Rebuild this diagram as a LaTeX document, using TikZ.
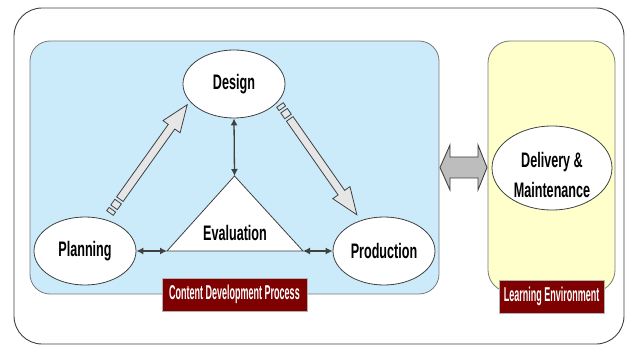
\documentclass[tikz,border=0pt]{standalone}
\usepackage{fontspec}
\usetikzlibrary{shapes.geometric,arrows.meta}
\newfontfamily\nodefont[FakeStretch=0.6]{Liberation Sans}
\newfontfamily\labfont[FakeStretch=0.45]{Liberation Sans}
\definecolor{bluebg}{HTML}{CCEBFA}
\definecolor{yellowbg}{HTML}{FFFFCC}
\definecolor{labred}{HTML}{7F0000}
\definecolor{edge}{HTML}{404040}
\definecolor{arrowfill}{HTML}{E6E6E6}
\definecolor{dblfill}{HTML}{BDBDBD}
\tikzset{
  phase/.style={ellipse, draw=edge, line width=0.8pt, fill=white, inner sep=0pt,
    minimum width=102pt, minimum height=68pt,
    font=\nodefont\bfseries\fontsize{21}{30}\selectfont, text=black},
  phasetext/.style={font=\nodefont\bfseries\fontsize{21}{30}\selectfont, text=black, align=center, inner sep=0pt},
  tag/.style={rectangle, fill=labred, draw=gray!60, line width=0.5pt, text=white,
    font=\labfont\bfseries\fontsize{20}{22}\selectfont, minimum height=33pt, inner sep=0pt},
  link/.style={draw=edge, line width=1.3pt, {Latex[length=7pt,width=7pt]}-{Latex[length=7pt,width=7pt]}},
  blockarrow/.style={draw=edge, line width=0.8pt, fill=arrowfill, line join=miter},
  frame/.style={draw=edge, line width=0.9pt}
}
\begin{document}
\begin{tikzpicture}[x=1pt,y=-1pt]
\useasboundingbox (0,0) rectangle (626,347);
% outer frame
\draw[frame, fill=white, rounded corners=28pt] (14,8) rectangle (624,344);
% blue and yellow boxes
\draw[draw=edge!70, line width=0.8pt, fill=bluebg, rounded corners=20pt] (30,41) rectangle (439,294);
\draw[draw=edge!70, line width=0.8pt, fill=yellowbg, rounded corners=22pt] (488,41) rectangle (615,292);

% big block arrows (Planning -> Design, Design -> Production)
\begin{scope}[shift={(110,213)}, rotate=54.5]
  \def\L{133}
  \draw[blockarrow] (0,-4) rectangle (4,4);
  \draw[blockarrow] (7,-4) rectangle (14,4);
  \draw[blockarrow] (17,-4) -- (\L-27,-4) -- (\L-27,-10.5) -- (\L,0) -- (\L-27,10.5) -- (\L-27,4) -- (17,4) -- cycle;
\end{scope}
\begin{scope}[shift={(280,105)}, rotate=-55]
  \def\L{134}
  \draw[blockarrow] (0,-4) rectangle (4,4);
  \draw[blockarrow] (7,-4) rectangle (14,4);
  \draw[blockarrow] (17,-4) -- (\L-27,-4) -- (\L-27,-10.5) -- (\L,0) -- (\L-27,10.5) -- (\L-27,4) -- (17,4) -- cycle;
\end{scope}

% double block arrow between boxes
\draw[draw=edge, line width=0.9pt, fill=dblfill, line join=miter]
  (440,167.5) -- (450,145) -- (450,157) -- (478,157) -- (478,145) -- (487,167.5)
  -- (478,190) -- (478,178) -- (450,178) -- (450,190) -- cycle;

% triangle
\coordinate (triTop) at (234.5,176);
\coordinate (triL) at (167,251);
\coordinate (triR) at (303,251);
\draw[draw=edge, line width=0.8pt, fill=white] (triTop) -- (triR) -- (triL) -- cycle;
\node[phasetext] (eval) at (235,233) {Evaluation};

% ellipses
\node[phase] (design) at (234,84) {Design};
\node[phase] (planning) at (85,251) {Planning};
\node[phase] (production) at (384,251) {Production};
\node[phase, minimum width=120pt, minimum height=84pt] (delivery) at (552,168) {};
\node[phasetext] (deliverytext) at (552,175) {Delivery \&\\Maintenance};

% thin double arrows
\draw[link] (planning.east) -- (triL);
\draw[link] (triR) -- (production.west);
\draw[link] (design.south) -- (triTop);

% tags
\node[tag, minimum width=145pt] (cdp) at (234.5,294.5) {Content Development Process};
\node[tag, minimum width=105pt] (le) at (551.5,296.5) {Learning Environment};
\end{tikzpicture}
\end{document}
